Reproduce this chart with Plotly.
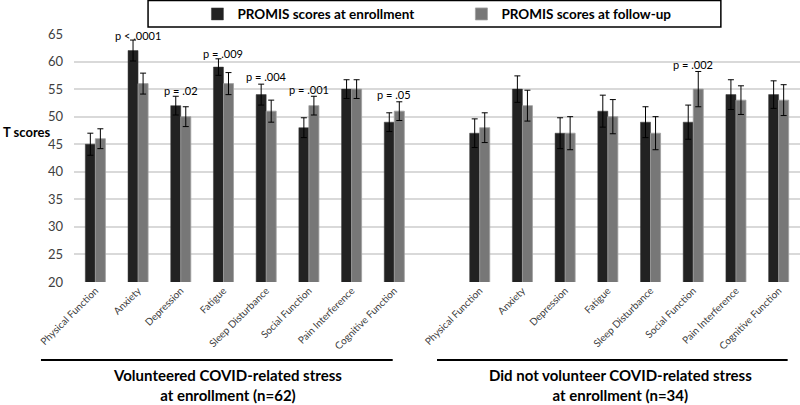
import plotly.graph_objects as go

# PROMIS domains (same for both groups)
domains = ["Physical Function", "Anxiety", "Depression", "Fatigue",
           "Sleep Disturbance", "Social Function", "Pain Interference",
           "Cognitive Function"]

# group 1: volunteered COVID-related stress (n=62)
g1_enroll = [45, 62, 52, 59, 54, 48, 55, 49]
g1_enroll_err = [2.0, 1.9, 1.7, 1.5, 1.9, 1.8, 1.7, 1.7]
g1_follow = [46, 56, 50, 56, 51, 52, 55, 51]
g1_follow_err = [1.8, 1.9, 1.8, 2.0, 2.0, 1.7, 1.7, 1.7]
g1_pvals = ["", "p < .0001", "p = .02", "p = .009", "p = .004", "p = .001", "", "p = .05"]
g1_pval_y = [None, 64.8, 54.7, 61.4, 57.2, 55.0, None, 54.1]

# group 2: did not volunteer COVID-related stress (n=34)
g2_enroll = [47, 55, 47, 51, 49, 49, 54, 54]
g2_enroll_err = [2.6, 2.4, 2.8, 2.9, 2.8, 3.1, 2.7, 2.5]
g2_follow = [48, 52, 47, 50, 47, 55, 53, 53]
g2_follow_err = [2.7, 2.8, 3.0, 3.1, 3.0, 3.2, 2.6, 2.8]
g2_pvals = ["", "", "", "", "", "p = .002", "", ""]
g2_pval_y = [None, None, None, None, None, 59.4, None, None]

group_labels = ["Volunteered COVID-related stress<br>at enrollment (n=62)",
                "Did not volunteer COVID-related stress<br>at enrollment (n=34)"]

# positions: 8 categories, one empty slot, 8 categories
x1 = list(range(len(domains)))
x2 = [i + len(domains) + 1 for i in range(len(domains))]
xs = x1 + x2

FONT = "Lato"
DARK = "#222222"
GREY = "#777777"

fig = go.Figure()
fig.add_trace(go.Bar(
    x=xs, y=g1_enroll + g2_enroll, name="PROMIS scores at enrollment",
    marker=dict(color=DARK, line=dict(color="#3a3a3a", width=0.5)),
    error_y=dict(type="data", array=g1_enroll_err + g2_enroll_err,
                 color="black", thickness=1, width=3),
))
fig.add_trace(go.Bar(
    x=xs, y=g1_follow + g2_follow, name="PROMIS scores at follow-up",
    marker=dict(color=GREY, line=dict(color="#a0a0a0", width=0.8)),
    error_y=dict(type="data", array=g1_follow_err + g2_follow_err,
                 color="black", thickness=1, width=3),
))

# p-value labels above pairs
for xpos, txt, yv in zip(xs, g1_pvals + g2_pvals, g1_pval_y + g2_pval_y):
    if txt:
        fig.add_annotation(x=xpos, y=yv, text=txt, showarrow=False,
                           font=dict(family=FONT, size=11, color="black"))

# y-axis title written horizontally
fig.add_annotation(xref="paper", yref="paper", x=-0.1005, y=0.605, xanchor="left",
                   text="<b>T scores</b>", showarrow=False,
                   font=dict(family=FONT, size=13, color="black"))

# group underlines and labels
for x0, x1_, cx, lab in [(-0.0455, 0.439, 0.212, group_labels[0]),
                         (0.5, 0.983, 0.753, group_labels[1])]:
    fig.add_shape(type="line", xref="paper", yref="paper", x0=x0, x1=x1_,
                  y0=-0.315, y1=-0.315, line=dict(color="black", width=2))
    fig.add_annotation(xref="paper", yref="paper", x=cx, y=-0.417,
                       xanchor="center", yanchor="middle",
                       text="<b>" + lab + "</b>", showarrow=False,
                       font=dict(family=FONT, size=15, color="black"))

# legend box (its top edge sits at the very top of the image)
fig.add_shape(type="rect", xref="paper", yref="paper", x0=0.102, x1=0.891,
              y0=1.028, y1=1.135, line=dict(color="black", width=1.5),
              fillcolor="white", layer="below")

fig.update_layout(
    width=800, height=405,
    margin=dict(l=74, r=0, t=34, b=123, autoexpand=False),
    paper_bgcolor="white", plot_bgcolor="white",
    barmode="group", bargap=0.53, bargroupgap=0,
    font=dict(family=FONT),
    showlegend=True,
    legend=dict(orientation="h", x=0.17, y=1.08, xanchor="left", yanchor="middle",
                entrywidth=219, entrywidthmode="pixels", itemwidth=30,
                font=dict(family=FONT, size=13.5, color="black", weight="bold"),
                bgcolor="rgba(0,0,0,0)"),
)
fig.update_xaxes(
    tickmode="array", tickvals=xs, ticktext=domains + domains,
    tickangle=-45, range=[-0.5, len(xs) + 0.5],
    tickfont=dict(family=FONT, size=10, color="#404040"),
    showgrid=False, showline=False, zeroline=False, ticks="",
)
fig.update_yaxes(
    range=[20, 65], dtick=5, tick0=20,
    showgrid=True, gridcolor="#d9d9d9", gridwidth=1.5,
    zeroline=False, showline=False, ticks="", ticklabelstandoff=10,
    tickfont=dict(family=FONT, size=13, color="#404040"),
)

# drop the browser's default body margin so the figure fills the window
fig.write_html("out.html", config={"displayModeBar": False},
               post_script="document.body.style.margin='0';")
